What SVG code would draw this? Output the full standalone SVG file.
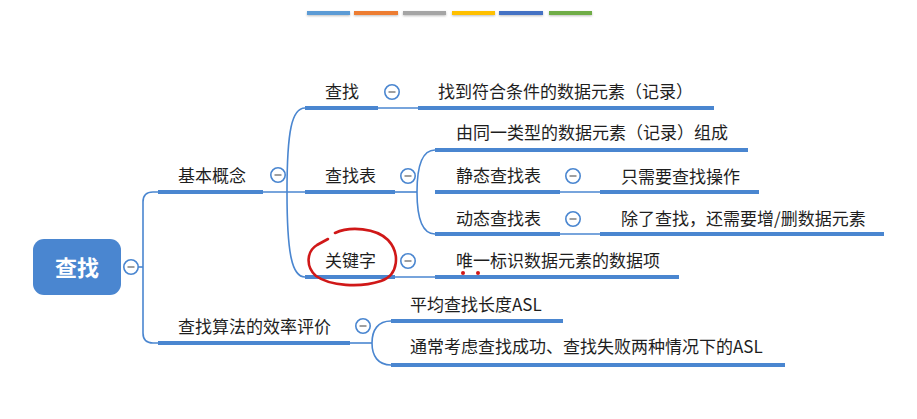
<svg xmlns="http://www.w3.org/2000/svg" width="917" height="419" viewBox="0 0 917 419">
<defs>
<style>
.t{font-family:"Noto Sans CJK SC","Noto Sans",sans-serif;font-size:17px;fill:#1e1e1e}
.thick{stroke:#4a86d0;stroke-width:4;fill:none}
.thin{stroke:#4a86d0;stroke-width:1.6;fill:none}
.bar{stroke:none}
</style>
<g id="tg"><circle cx="0" cy="0" r="7.2" fill="#ffffff" stroke="#4a86d0" stroke-width="1.6"/><line x1="-3.5" y1="0" x2="3.5" y2="0" stroke="#888888" stroke-width="1.6"/></g>
<filter id="sh" x="-10%" y="-50%" width="120%" height="250%"><feDropShadow dx="0" dy="1" stdDeviation="0.8" flood-color="#000" flood-opacity="0.25"/></filter>
</defs>
<rect width="917" height="419" fill="#fff"/>
<g id="bars" filter="url(#sh)">
<rect class="bar" x="307" y="11" width="43" height="4" fill="#5b9bd5"/>
<rect class="bar" x="354" y="11" width="44" height="4" fill="#ed7d31"/>
<rect class="bar" x="403" y="11" width="43" height="4" fill="#a5a5a5"/>
<rect class="bar" x="452" y="11" width="43" height="4" fill="#ffc000"/>
<rect class="bar" x="499" y="11" width="44" height="4" fill="#4472c4"/>
<rect class="bar" x="549" y="11" width="43" height="4" fill="#70ad47"/>
</g>
<g id="connectors">
<path class="thin" d="M138 267 H143"/>
<path class="thin" d="M158 192 H153 Q143 192 143 202 V333 Q143 343 153 343 H158"/>
<path class="thin" d="M263 192 H305"/>
<path class="thin" d="M305 108 C292 108 287 130 287 192 C287 254 292 277 305 277"/>
<path class="thin" d="M378 108 H418"/>
<path class="thin" d="M395 192 H417"/>
<path class="thin" d="M435 150 C422 150 417 165 417 192 C417 219 422 234 435 234"/>
<path class="thin" d="M560 192 H600"/>
<path class="thin" d="M560 234 H600"/>
<path class="thin" d="M395 277 H435"/>
<path class="thin" d="M350 343 H372"/>
<path class="thin" d="M391 321 C378 321 372 330 372 343 C372 356 378 365 391 365"/>
</g>
<g id="root">
<rect x="33" y="239" width="88" height="56" rx="11" fill="#4a86d0"/>
<text x="77" y="276" text-anchor="middle" style="font-family:'Noto Sans CJK SC','Noto Sans',sans-serif;font-size:22px;font-weight:bold;fill:#fff">查找</text>
<use href="#tg" x="131" y="267"/>
</g>
<g id="n-jiben">
<text class="t" x="178" y="182">基本概念</text>
<path class="thick" d="M158 192 H263"/>
<use href="#tg" x="278" y="175"/>
</g>
<g id="n-chazhao">
<text class="t" x="325" y="98">查找</text>
<path class="thick" d="M305 108 H378"/>
<use href="#tg" x="392" y="92"/>
</g>
<g id="n-chazhao-def">
<text class="t" x="438" y="98">找到符合条件的数据元素（记录）</text>
<path class="thick" d="M418 108 H714"/>
</g>
<g id="n-biao">
<text class="t" x="325" y="182">查找表</text>
<path class="thick" d="M305 192 H395"/>
<use href="#tg" x="408" y="176"/>
</g>
<g id="n-biao-def">
<text class="t" x="456" y="139">由同一类型的数据元素（记录）组成</text>
<path class="thick" d="M435 150 H748"/>
</g>
<g id="n-static">
<text class="t" x="456" y="182">静态查找表</text>
<path class="thick" d="M435 192 H560"/>
<use href="#tg" x="573" y="176"/>
</g>
<g id="n-static-def">
<text class="t" x="621" y="183">只需要查找操作</text>
<path class="thick" d="M600 192 H759"/>
</g>
<g id="n-dynamic">
<text class="t" x="456" y="225">动态查找表</text>
<path class="thick" d="M435 234 H560"/>
<use href="#tg" x="573" y="219"/>
</g>
<g id="n-dynamic-def">
<text class="t" x="621" y="225">除了查找，还需要增/删数据元素</text>
<path class="thick" d="M600 234 H884"/>
</g>
<g id="n-key">
<text class="t" x="325" y="267">关键字</text>
<path class="thick" d="M305 277 H395"/>
<use href="#tg" x="408" y="261"/>
</g>
<g id="n-key-def">
<text class="t" x="456" y="267">唯一标识数据元素的数据项</text>
<path class="thick" d="M435 277 H679"/>
</g>
<g id="n-eval">
<text class="t" x="178" y="333">查找算法的效率评价</text>
<path class="thick" d="M158 343 H350"/>
<use href="#tg" x="363" y="326"/>
</g>
<g id="n-asl">
<text class="t" x="410" y="311">平均查找长度ASL</text>
<path class="thick" d="M391 321 H563"/>
</g>
<g id="n-asl2">
<text class="t" x="410" y="353">通常考虑查找成功、查找失败两种情况下的ASL</text>
<path class="thick" d="M391 365 H785"/>
</g>
<g id="annotation" fill="none" stroke="#d01818" stroke-width="2.6" stroke-linecap="round">
<path d="M335 233 C350 226 376 228 388 240 C400 253 399 275 381 281 C360 288 330 286 316 276 C305 266 307 251 317 245 L328 239"/>
<circle cx="463" cy="273" r="2" fill="#d01818" stroke="none"/>
<circle cx="478" cy="273" r="2" fill="#d01818" stroke="none"/>
</g>
</svg>
